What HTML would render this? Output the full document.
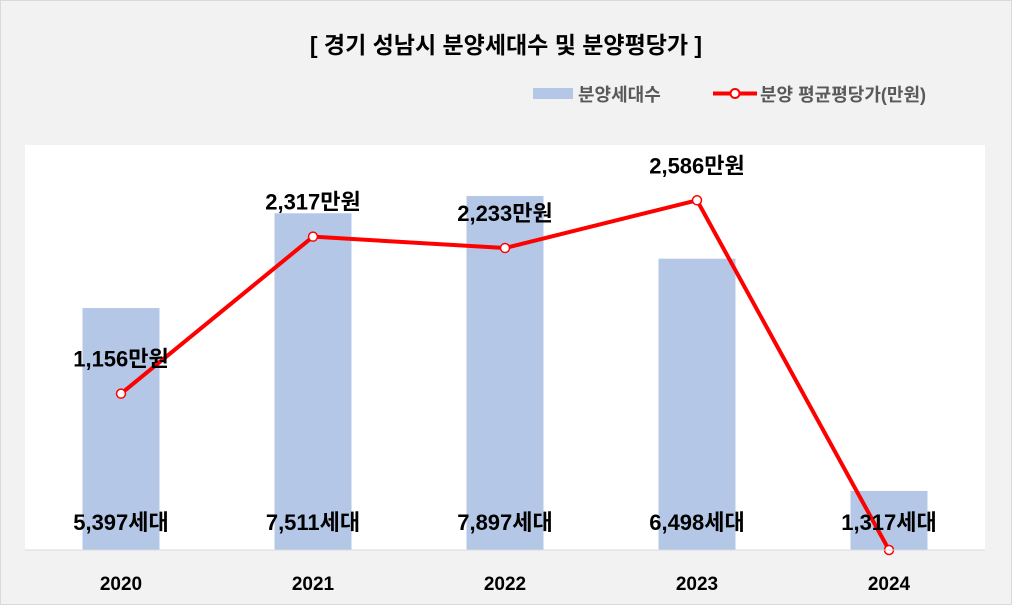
<!DOCTYPE html>
<html><head><meta charset="utf-8">
<style>
html,body{margin:0;padding:0;background:#fff;}
body{width:1012px;height:605px;overflow:hidden;font-family:"Liberation Sans","Noto Sans CJK KR",sans-serif;}
</style></head>
<body>
<svg id="chart" width="1012" height="605" xmlns="http://www.w3.org/2000/svg" font-family="Liberation Sans, Noto Sans CJK KR, sans-serif">
<rect x="0.5" y="0.5" width="1011" height="604" fill="#f2f2f2" stroke="#d9d9d9"/>
<rect x="25" y="145" width="960" height="405" fill="#ffffff"/>
<text x="506" y="53" text-anchor="middle" font-size="23" font-weight="bold" fill="#000">[ 경기 성남시 분양세대수 및 분양평당가 ]</text>
<g>
<rect x="533" y="88" width="40" height="11" fill="#b4c7e7"/>
<text x="578" y="101" font-size="18" font-weight="bold" fill="#595959">분양세대수</text>
<line x1="713" y1="93.5" x2="757" y2="93.5" stroke="#ff0000" stroke-width="4"/>
<circle cx="735" cy="93.5" r="4.5" fill="#fff" stroke="#ff0000" stroke-width="2"/>
<text x="760" y="101" font-size="18" font-weight="bold" fill="#595959">분양 평균평당가(만원)</text>
</g>
<g id="bars"></g><g id="line"></g><g id="labels"></g>
<line x1="25" y1="550" x2="985" y2="550" stroke="#d9d9d9" stroke-width="1"/>
</svg>
<script>
const categories=["2020","2021","2022","2023","2024"];
const units=[5397,7511,7897,6498,1317];
const prices=[1156,2317,2233,2586,0];
const unitsMax=9034, priceMax=2995;
const plotL=25, plotW=960, plotT=145, plotB=550;
const NS="http://www.w3.org/2000/svg";
const band=plotW/categories.length;
function xc(i){return plotL+band*(i+0.5);}
function yU(v){return plotB-(v/unitsMax)*(plotB-plotT);}
function yP(v){return plotB-(v/priceMax)*(plotB-plotT);}
function mk(tag,attrs,parent){const e=document.createElementNS(NS,tag);for(const k in attrs)e.setAttribute(k,attrs[k]);parent.appendChild(e);return e;}
const gB=document.getElementById('bars'),gL=document.getElementById('line'),gT=document.getElementById('labels');
const bw=77;
categories.forEach((c,i)=>{
  const r=mk('rect',{x:xc(i)-bw/2,y:yU(units[i]),width:bw,height:plotB-yU(units[i]),fill:'#b4c7e7'},gB);
  
  
  const t=mk('text',{x:xc(i),y:530,'text-anchor':'middle','font-size':22,'font-weight':'bold',fill:'#000'},gT);
  t.textContent=units[i].toLocaleString('en-US')+'세대';
  
  
  const xl=mk('text',{x:xc(i),y:590,'text-anchor':'middle','font-size':19,'font-weight':'bold',fill:'#000'},gT);
  xl.textContent=c;
  
  
});
const pts=prices.map((p,i)=>xc(i)+','+yP(p)).join(' ');
const pl=mk('polyline',{points:pts,fill:'none',stroke:'#ff0000','stroke-width':4,'stroke-linejoin':'round'},gL);


prices.forEach((p,i)=>{
  const c=mk('circle',{cx:xc(i),cy:yP(p),r:4.5,fill:'#fff',stroke:'#ff0000','stroke-width':1.5},gL);
  
  
  if(p>0){
    const t=mk('text',{x:xc(i),y:yP(p)-27,'text-anchor':'middle','font-size':22,'font-weight':'bold',fill:'#000'},gT);
    t.textContent=p.toLocaleString('en-US')+'만원';
    
    
  }
});
</script>
</body></html>
